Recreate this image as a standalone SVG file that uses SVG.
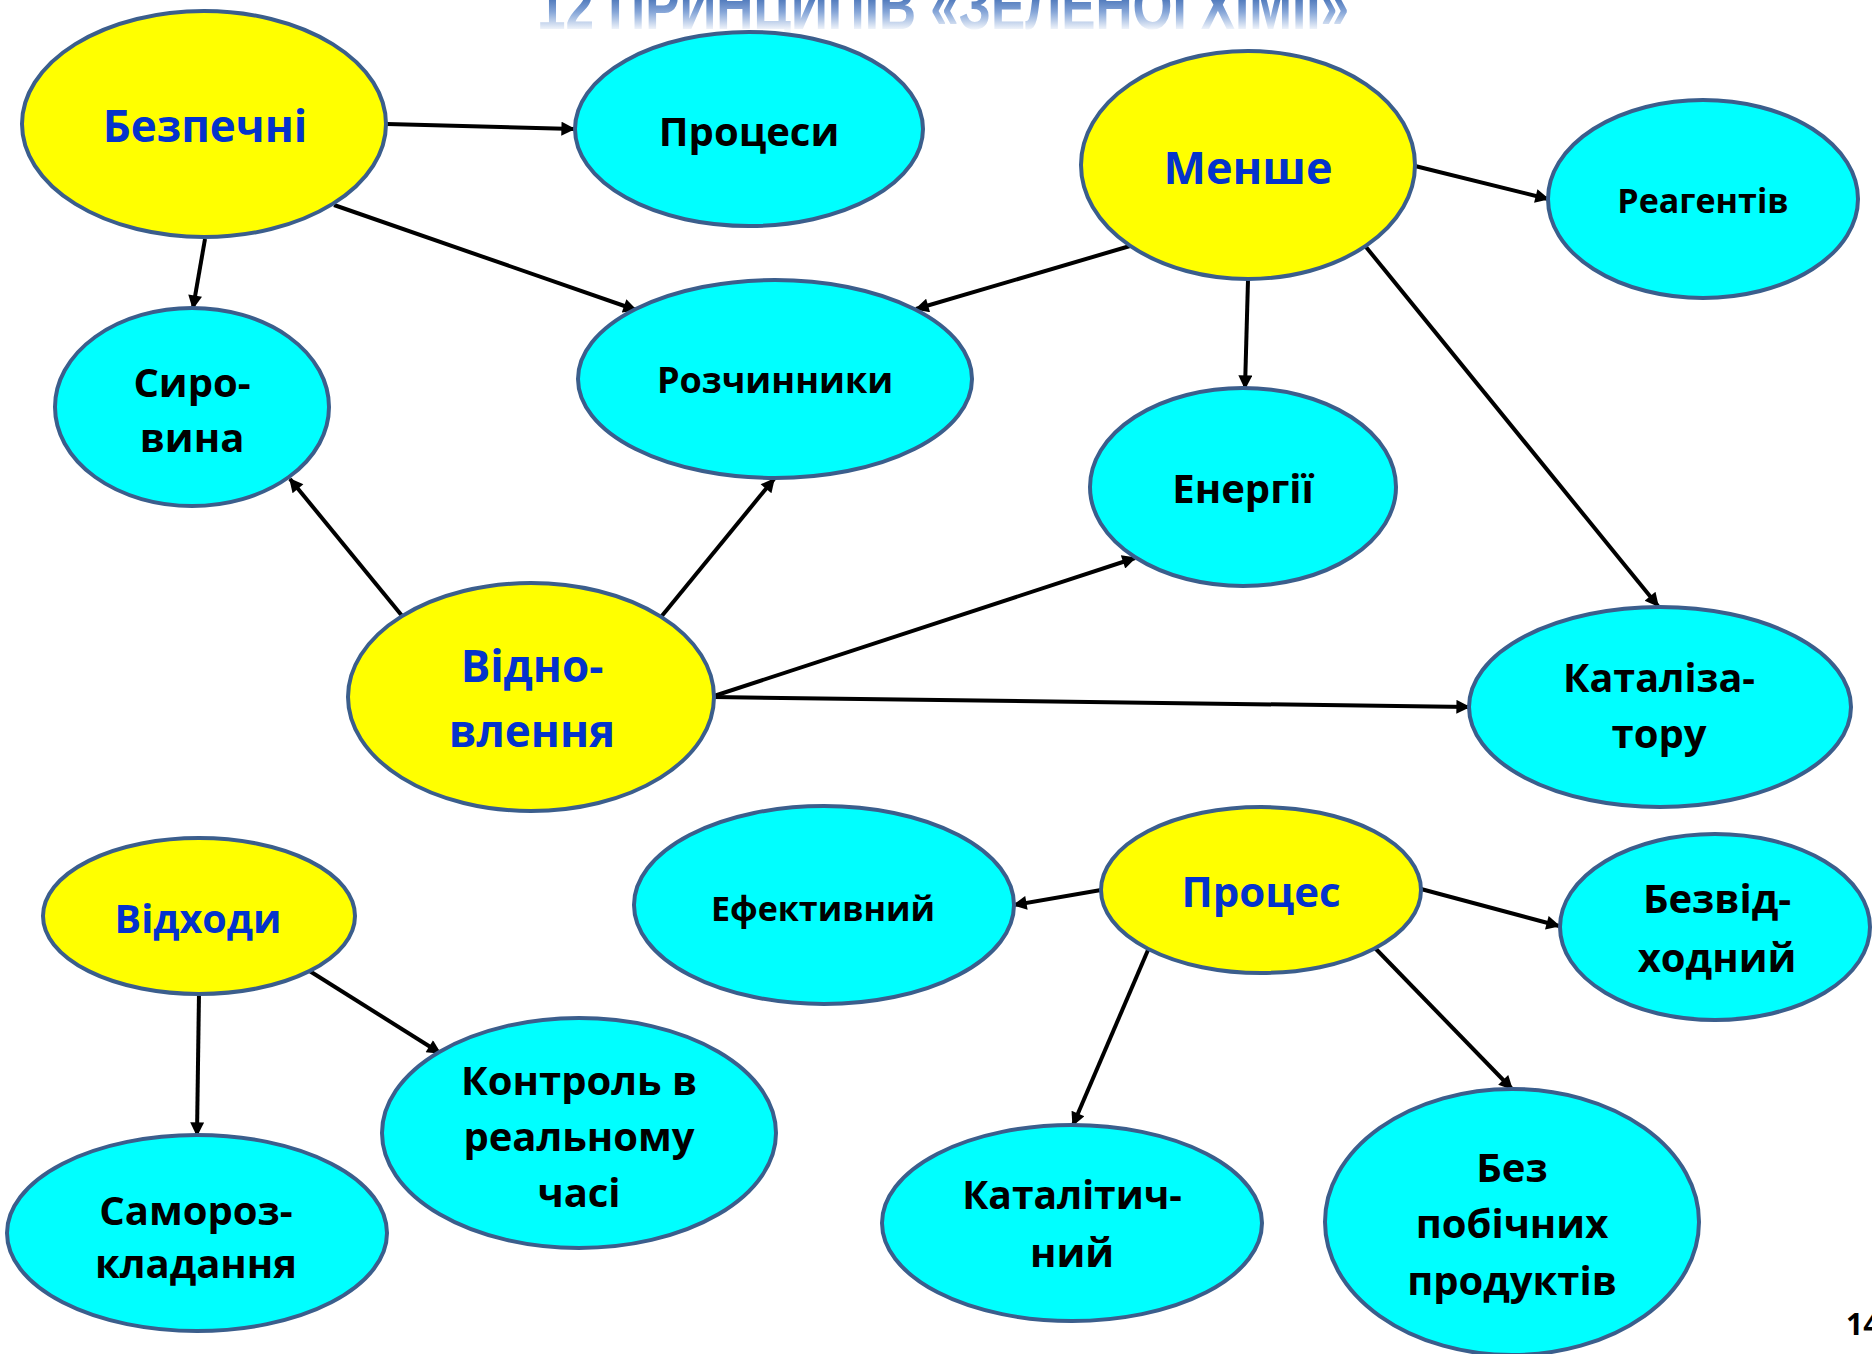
<svg xmlns="http://www.w3.org/2000/svg" width="1872" height="1354" viewBox="0 0 1872 1354">
<style>
  .y { fill: #FFFF00; stroke: #3B5E8C; stroke-width: 4; }
  .c { fill: #00FFFF; stroke: #3B5E8C; stroke-width: 4; }
  .tb { font-family: "Open Sans", "Noto Sans", "DejaVu Sans", sans-serif; font-weight: bold; fill: #0433CC; text-anchor: middle; }
  .tk { font-family: "Open Sans", "Noto Sans", "DejaVu Sans", sans-serif; font-weight: bold; fill: #000000; text-anchor: middle; }
  .e { stroke: #000000; stroke-width: 4; fill: none; marker-end: url(#ah); }
  .title { font-family: "Liberation Sans", "DejaVu Sans", sans-serif; font-weight: bold; }
</style>
<defs>
  <marker id="ah" viewBox="0 0 10 10" refX="9" refY="5" markerUnits="userSpaceOnUse" markerWidth="17" markerHeight="14" orient="auto">
    <path d="M0,0 L10,5 L0,10 z" fill="#000000"/>
  </marker>
  <linearGradient id="tg" gradientUnits="userSpaceOnUse" x1="0" y1="-10" x2="0" y2="30">
    <stop offset="0" stop-color="#2A5AA8"/>
    <stop offset="0.55" stop-color="#86A6D8"/>
    <stop offset="1" stop-color="#F4F7FC"/>
  </linearGradient>
</defs>
<rect x="0" y="0" width="1872" height="1354" fill="#FFFFFF"/>
<text class="title" x="943" y="29" font-size="66" text-anchor="middle" fill="url(#tg)" textLength="812" lengthAdjust="spacingAndGlyphs">12 ПРИНЦИПІВ «ЗЕЛЕНОЇ ХІМІЇ»</text>

<g id="connectors">
  <line class="e" x1="387" y1="124" x2="574" y2="129"/>
  <line class="e" x1="205" y1="239" x2="193" y2="308"/>
  <line class="e" x1="334" y1="205" x2="636" y2="310"/>
  <line class="e" x1="1130" y1="246" x2="916" y2="309"/>
  <line class="e" x1="1415" y1="166" x2="1548" y2="199"/>
  <line class="e" x1="1248" y1="280" x2="1245" y2="388"/>
  <line class="e" x1="1366" y1="247" x2="1658" y2="606"/>
  <line class="e" x1="403" y1="617" x2="290" y2="479"/>
  <line class="e" x1="661" y1="617" x2="774" y2="479"/>
  <line class="e" x1="714" y1="696" x2="1135" y2="558"/>
  <line class="e" x1="714" y1="697" x2="1469" y2="707"/>
  <line class="e" x1="199" y1="993" x2="197" y2="1135"/>
  <line class="e" x1="308" y1="970" x2="440" y2="1053"/>
  <line class="e" x1="1101" y1="890" x2="1014" y2="905"/>
  <line class="e" x1="1421" y1="889" x2="1559" y2="926"/>
  <line class="e" x1="1148" y1="950" x2="1073" y2="1125"/>
  <line class="e" x1="1375" y1="948" x2="1512" y2="1089"/>
</g>

<g id="n-bezpechni"><ellipse class="y" cx="204" cy="124" rx="182" ry="113"/><text class="tb" x="205" y="142" font-size="44">Безпечні</text></g>
<g id="n-protsesy"><ellipse class="c" cx="749" cy="129" rx="174" ry="97"/><text class="tk" x="749" y="146" font-size="40">Процеси</text></g>
<g id="n-menshe"><ellipse class="y" cx="1248" cy="165" rx="167" ry="114"/><text class="tb" x="1248" y="184" font-size="45">Менше</text></g>
<g id="n-reagentiv"><ellipse class="c" cx="1703" cy="199" rx="155" ry="99"/><text class="tk" x="1703" y="213" font-size="34">Реагентів</text></g>
<g id="n-syrovyna"><ellipse class="c" cx="192" cy="407" rx="137" ry="99"/><text class="tk" x="192" y="397" font-size="40">Сиро-</text><text class="tk" x="192" y="452" font-size="40">вина</text></g>
<g id="n-rozchynnyky"><ellipse class="c" cx="775" cy="379" rx="197" ry="99"/><text class="tk" x="775" y="393" font-size="36">Розчинники</text></g>
<g id="n-energii"><ellipse class="c" cx="1243" cy="487" rx="153" ry="99"/><text class="tk" x="1243" y="503" font-size="40">Енергії</text></g>
<g id="n-vidnovlennia"><ellipse class="y" cx="531" cy="697" rx="183" ry="114"/><text class="tb" x="532" y="682" font-size="44">Відно-</text><text class="tb" x="532" y="747" font-size="44">влення</text></g>
<g id="n-katalizatoru"><ellipse class="c" cx="1660" cy="707" rx="191" ry="100"/><text class="tk" x="1659" y="692" font-size="39.5">Каталіза-</text><text class="tk" x="1659" y="748" font-size="40">тору</text></g>
<g id="n-vidkhody"><ellipse class="y" cx="199" cy="916" rx="156" ry="78"/><text class="tb" x="198" y="933" font-size="39.5">Відходи</text></g>
<g id="n-samorozkladannia"><ellipse class="c" cx="197" cy="1233" rx="190" ry="98"/><text class="tk" x="196" y="1225" font-size="40">Самороз-</text><text class="tk" x="196" y="1278" font-size="40">кладання</text></g>
<g id="n-kontrol"><ellipse class="c" cx="579" cy="1133" rx="197" ry="115"/><text class="tk" x="579" y="1095" font-size="40">Контроль в</text><text class="tk" x="579" y="1151" font-size="40">реальному</text><text class="tk" x="579" y="1207" font-size="40">часі</text></g>
<g id="n-efektyvnyi"><ellipse class="c" cx="824" cy="905" rx="190" ry="99"/><text class="tk" x="823" y="921" font-size="34">Ефективний</text></g>
<g id="n-protses"><ellipse class="y" cx="1261" cy="890" rx="160" ry="83"/><text class="tb" x="1261" y="907" font-size="42">Процес</text></g>
<g id="n-bezvidkhodnyi"><ellipse class="c" cx="1715" cy="927" rx="155" ry="93"/><text class="tk" x="1717" y="913" font-size="40">Безвід-</text><text class="tk" x="1717" y="972" font-size="40">ходний</text></g>
<g id="n-katalitychnyi"><ellipse class="c" cx="1072" cy="1223" rx="190" ry="98"/><text class="tk" x="1072" y="1209" font-size="39">Каталітич-</text><text class="tk" x="1072" y="1267" font-size="40">ний</text></g>
<g id="n-bez-pobichnykh"><ellipse class="c" cx="1512" cy="1222" rx="187" ry="133"/><text class="tk" x="1512" y="1182" font-size="40">Без</text><text class="tk" x="1512" y="1238" font-size="40">побічних</text><text class="tk" x="1512" y="1295" font-size="40">продуктів</text></g>

<text x="1846" y="1335" font-family="Open Sans, Noto Sans, sans-serif" font-weight="bold" font-size="30" fill="#000000">14</text>
</svg>
